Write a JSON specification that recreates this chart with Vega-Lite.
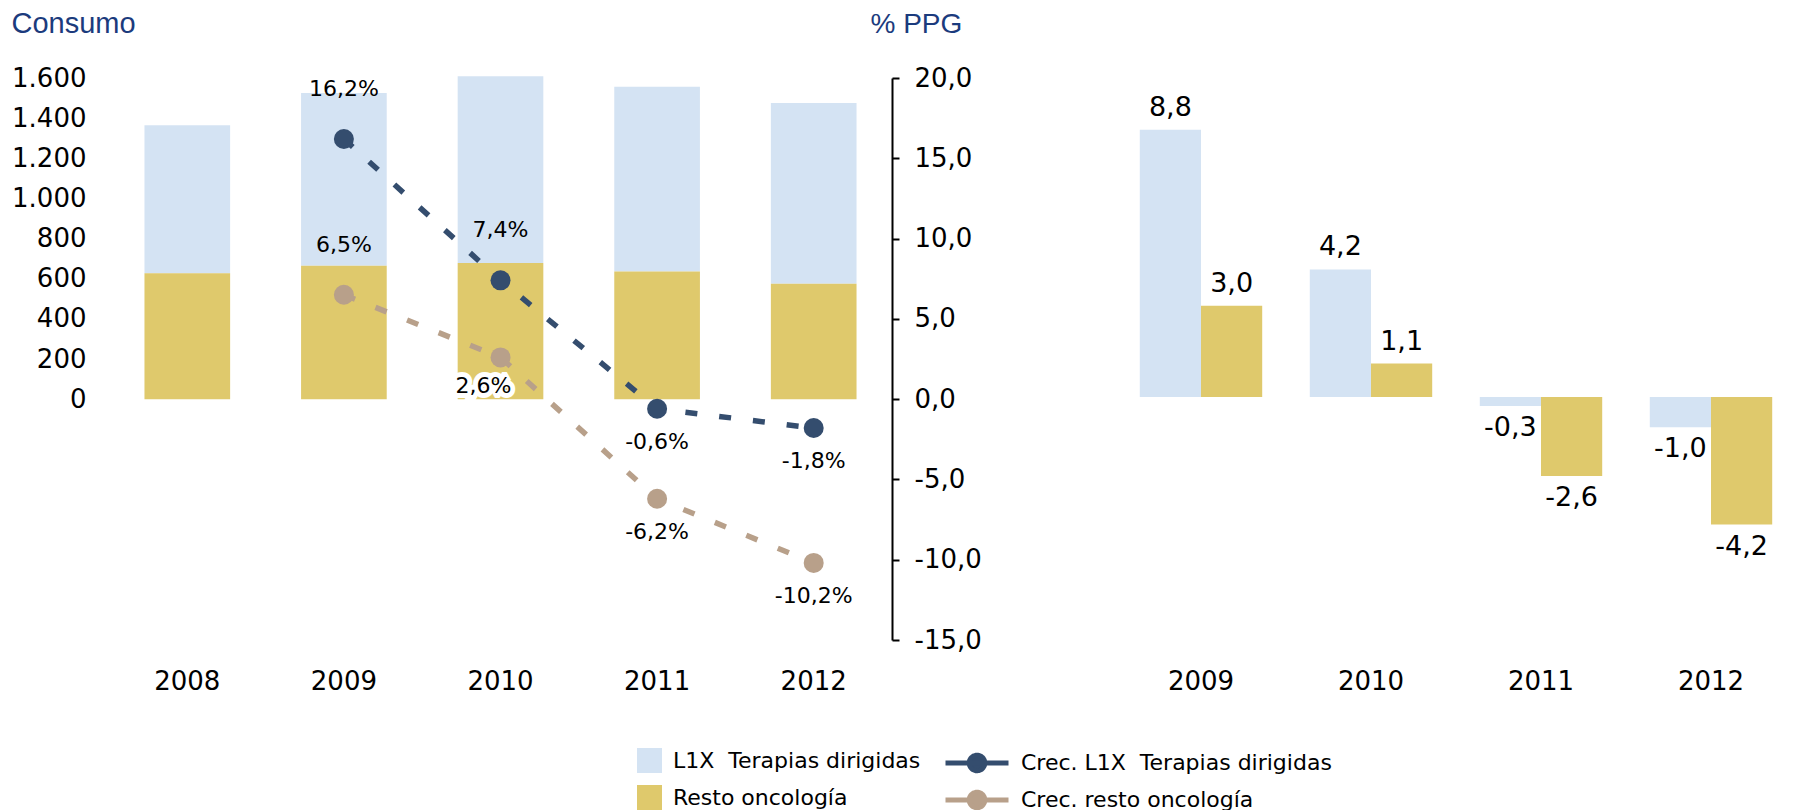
{
  "$schema": "https://vega.github.io/schema/vega-lite/v6.json",
  "padding": {"left": 11, "top": 9, "right": 0, "bottom": 0},
  "background": "white",
  "config": {
    "locale": {"number": {"decimal": ",", "thousands": ".", "grouping": [3], "currency": ["", " €"], "minus": "-"}},
    "view": {"stroke": null},
    "font": "DejaVu Sans",
    "axis": {"grid": false, "labelColor": "#000000", "labelFont": "DejaVu Sans", "labelFontSize": 26},
    "legend": {"labelFont": "DejaVu Sans", "labelFontSize": 22, "labelColor": "#000000", "padding": 0, "rowPadding": 12, "labelOffset": 11, "titlePadding": 0, "labelLimit": 400},
    "concat": {"spacing": 134}
  },
  "datasets": {
    "consumo": [
      {"year": "2008", "serie": "L1X\u00a0 Terapias dirigidas", "value": 738},
      {"year": "2008", "serie": "Resto oncología", "value": 627},
      {"year": "2009", "serie": "L1X\u00a0 Terapias dirigidas", "value": 860},
      {"year": "2009", "serie": "Resto oncología", "value": 665},
      {"year": "2010", "serie": "L1X\u00a0 Terapias dirigidas", "value": 931},
      {"year": "2010", "serie": "Resto oncología", "value": 678},
      {"year": "2011", "serie": "L1X\u00a0 Terapias dirigidas", "value": 921},
      {"year": "2011", "serie": "Resto oncología", "value": 636},
      {"year": "2012", "serie": "L1X\u00a0 Terapias dirigidas", "value": 900},
      {"year": "2012", "serie": "Resto oncología", "value": 575}
    ],
    "crec": [
      {"year": "2009", "serie": "Crec. L1X\u00a0 Terapias dirigidas", "g": 0.162},
      {"year": "2010", "serie": "Crec. L1X\u00a0 Terapias dirigidas", "g": 0.074},
      {"year": "2011", "serie": "Crec. L1X\u00a0 Terapias dirigidas", "g": -0.006},
      {"year": "2012", "serie": "Crec. L1X\u00a0 Terapias dirigidas", "g": -0.018},
      {"year": "2009", "serie": "Crec. resto oncología", "g": 0.065},
      {"year": "2010", "serie": "Crec. resto oncología", "g": 0.026},
      {"year": "2011", "serie": "Crec. resto oncología", "g": -0.062},
      {"year": "2012", "serie": "Crec. resto oncología", "g": -0.102}
    ],
    "ppg": [
      {"year": "2009", "serie": "L1X\u00a0 Terapias dirigidas", "v": 8.8},
      {"year": "2009", "serie": "Resto oncología", "v": 3.0},
      {"year": "2010", "serie": "L1X\u00a0 Terapias dirigidas", "v": 4.2},
      {"year": "2010", "serie": "Resto oncología", "v": 1.1},
      {"year": "2011", "serie": "L1X\u00a0 Terapias dirigidas", "v": -0.3},
      {"year": "2011", "serie": "Resto oncología", "v": -2.6},
      {"year": "2012", "serie": "L1X\u00a0 Terapias dirigidas", "v": -1.0},
      {"year": "2012", "serie": "Resto oncología", "v": -4.2}
    ]
  },
  "hconcat": [
    {
      "width": 783,
      "height": 562,
      "layer": [
        {
          "data": {"name": "consumo"},
          "mark": {"type": "bar"},
          "encoding": {
            "x": {"field": "year", "type": "ordinal", "scale": {"paddingInner": 0.453, "paddingOuter": 0.2265},
                  "axis": {"title": null, "domain": false, "ticks": false, "labelPadding": 28, "labelAngle": 0}},
            "y": {"field": "value", "type": "quantitative", "stack": "zero",
                  "scale": {"domain": [-1200, 1600], "nice": false, "zero": false},
                  "axis": {"orient": "left", "values": [0, 200, 400, 600, 800, 1000, 1200, 1400, 1600], "format": ",.0f",
                           "domain": false, "ticks": false, "tickSize": 0, "labelPadding": 23,
                           "title": "Consumo", "titleAngle": 0, "titleAlign": "left", "titleBaseline": "alphabetic",
                           "titleX": -98, "titleY": -46, "titleFont": "Liberation Sans", "titleFontSize": 29,
                           "titleFontWeight": "normal", "titleColor": "#1B3B7D"}},
            "color": {"field": "serie", "type": "nominal",
                      "scale": {"domain": ["L1X\u00a0 Terapias dirigidas", "Resto oncología"], "range": ["#D4E3F3", "#DFC96C"]},
                      "legend": {"orient": "none", "legendX": 528, "legendY": 670, "title": null, "symbolType": "square",
                                 "symbolSize": 625, "symbolStrokeWidth": 0, "direction": "vertical"}},
            "order": {"field": "serie", "sort": "descending"}
          }
        },
        {
          "mark": {"type": "rule", "color": "#000000", "strokeWidth": 2.5},
          "encoding": {"y": {"datum": 0, "type": "quantitative", "scale": {"domain": [-1200, 1600], "nice": false}, "axis": null}}
        },
        {
          "data": {"name": "crec"},
          "mark": {"type": "line", "strokeWidth": 5.5, "strokeDash": [12, 22]},
          "encoding": {
            "x": {"field": "year", "type": "ordinal"},
            "y": {"field": "g", "type": "quantitative", "scale": {"domain": [-0.15, 0.2], "nice": false, "zero": false},
                  "axis": {"orient": "right", "values": [-0.15, -0.1, -0.05, 0, 0.05, 0.1, 0.15, 0.2],
                           "labelExpr": "replace(replace(format(datum.value*100, '.1f'), '.', ','), '\u2212', '-')",
                           "domain": true, "domainColor": "#000000", "domainWidth": 2, "ticks": true, "tickColor": "#000000",
                           "tickWidth": 2, "tickSize": 7, "labelPadding": 15,
                           "title": "% PPG", "titleAngle": 0, "titleAlign": "left", "titleBaseline": "alphabetic",
                           "titleX": -22, "titleY": -46, "titleFont": "Liberation Sans", "titleFontSize": 28,
                           "titleFontWeight": "normal", "titleColor": "#1B3B7D"}},
            "stroke": {"field": "serie", "type": "nominal",
                       "scale": {"domain": ["Crec. L1X\u00a0 Terapias dirigidas", "Crec. resto oncología"], "range": ["#344D6E", "#B8A08A"]},
                       "legend": {"orient": "none", "legendX": 853, "legendY": 670, "title": null, "direction": "vertical",
                                  "symbolType": "M-2.52,0L2.52,0M-0.62,0A0.62,0.62,0,1,1,0.62,0A0.62,0.62,0,1,1,-0.62,0Z",
                                  "symbolSize": 625, "symbolStrokeWidth": 5, "labelOffset": 29, "rowPadding": 1, "symbolDash": [1, 0],
                                  "encode": {"symbols": {"update": {
                                    "fill": {"signal": "datum.value === 'Crec. resto oncología' ? '#B8A08A' : '#344D6E'"},
                                    "stroke": {"signal": "datum.value === 'Crec. resto oncología' ? '#B8A08A' : '#344D6E'"},
                                    "opacity": {"value": 1},
                                    "fillOpacity": {"value": 1}}}}}}
          }
        },
        {
          "data": {"name": "crec"},
          "mark": {"type": "point", "filled": true, "size": 400, "opacity": 1},
          "encoding": {
            "x": {"field": "year", "type": "ordinal"},
            "y": {"field": "g", "type": "quantitative", "scale": {"domain": [-0.15, 0.2], "nice": false, "zero": false}, "axis": null},
            "fill": {"field": "serie", "type": "nominal",
                     "scale": {"domain": ["Crec. L1X\u00a0 Terapias dirigidas", "Crec. resto oncología"], "range": ["#344D6E", "#B8A08A"]},
                     "legend": null}
          }
        },
        {
          "data": {"name": "crec"},
          "transform": [{"filter": "datum.g > 0 && !(datum.year == '2010' && datum.serie == 'Crec. resto oncología')"}],
          "mark": {"type": "text", "fontSize": 22, "baseline": "middle", "dy": -50, "color": "#000000"},
          "encoding": {
            "x": {"field": "year", "type": "ordinal"},
            "y": {"field": "g", "type": "quantitative", "scale": {"domain": [-0.15, 0.2], "nice": false, "zero": false}, "axis": null},
            "text": {"field": "g", "type": "quantitative", "format": ".1%"}
          }
        },
        {
          "data": {"name": "crec"},
          "transform": [{"filter": "datum.g < 0"}],
          "mark": {"type": "text", "fontSize": 22, "baseline": "middle", "dy": 33, "color": "#000000"},
          "encoding": {
            "x": {"field": "year", "type": "ordinal"},
            "y": {"field": "g", "type": "quantitative", "scale": {"domain": [-0.15, 0.2], "nice": false, "zero": false}, "axis": null},
            "text": {"field": "g", "type": "quantitative", "format": ".1%"}
          }
        },
        {
          "data": {"name": "crec"},
          "transform": [{"filter": "datum.year == '2010' && datum.serie == 'Crec. resto oncología'"}],
          "mark": {"type": "text", "fontSize": 22, "baseline": "middle", "dy": 29, "dx": -17, "fill": "#FFFFFF",
                   "stroke": "#FFFFFF", "strokeWidth": 10, "strokeJoin": "miter", "strokeMiterLimit": 2},
          "encoding": {
            "x": {"field": "year", "type": "ordinal"},
            "y": {"field": "g", "type": "quantitative", "scale": {"domain": [-0.15, 0.2], "nice": false, "zero": false}, "axis": null},
            "text": {"field": "g", "type": "quantitative", "format": ".1%"}
          }
        },
        {
          "data": {"name": "crec"},
          "transform": [{"filter": "datum.year == '2010' && datum.serie == 'Crec. resto oncología'"}],
          "mark": {"type": "text", "fontSize": 22, "baseline": "middle", "dy": 29, "dx": -17, "color": "#000000"},
          "encoding": {
            "x": {"field": "year", "type": "ordinal"},
            "y": {"field": "g", "type": "quantitative", "scale": {"domain": [-0.15, 0.2], "nice": false, "zero": false}, "axis": null},
            "text": {"field": "g", "type": "quantitative", "format": ".1%"}
          }
        }
      ],
      "resolve": {"scale": {"y": "independent"}}
    },
    {
      "width": 680,
      "height": 562,
      "data": {"name": "ppg"},
      "encoding": {
        "x": {"field": "year", "type": "ordinal", "scale": {"paddingInner": 0.28, "paddingOuter": 0.14},
              "axis": {"title": null, "domain": false, "ticks": false, "labelPadding": 28, "labelAngle": 0}}
      },
      "layer": [
        {
          "mark": {"type": "bar"},
          "encoding": {
            "xOffset": {"field": "serie", "type": "nominal", "scale": {"domain": ["L1X\u00a0 Terapias dirigidas", "Resto oncología"], "paddingInner": 0}},
            "y": {"field": "v", "type": "quantitative", "scale": {"domain": [-8, 10.5], "nice": false}, "axis": null},
            "color": {"field": "serie", "type": "nominal",
                      "scale": {"domain": ["L1X\u00a0 Terapias dirigidas", "Resto oncología"], "range": ["#D4E3F3", "#DFC96C"]},
                      "legend": {"orient": "none", "legendX": 528, "legendY": 670, "title": null, "symbolType": "square",
                                 "symbolSize": 625, "symbolStrokeWidth": 0, "direction": "vertical"}}
          }
        },
        {
          "mark": {"type": "rule", "color": "#000000", "strokeWidth": 2.5},
          "encoding": {"y": {"datum": 0, "type": "quantitative"}}
        },
        {
          "transform": [{"filter": "datum.v > 0"}],
          "mark": {"type": "text", "fontSize": 27, "baseline": "middle", "dy": -22, "color": "#000000"},
          "encoding": {
            "xOffset": {"field": "serie", "type": "nominal"},
            "y": {"field": "v", "type": "quantitative"},
            "text": {"field": "v", "type": "quantitative", "format": ".1f"}
          }
        },
        {
          "transform": [{"filter": "datum.v < 0"}],
          "mark": {"type": "text", "fontSize": 27, "baseline": "middle", "dy": 22, "color": "#000000"},
          "encoding": {
            "xOffset": {"field": "serie", "type": "nominal"},
            "y": {"field": "v", "type": "quantitative"},
            "text": {"field": "v", "type": "quantitative", "format": ".1f"}
          }
        }
      ]
    }
  ]
}
